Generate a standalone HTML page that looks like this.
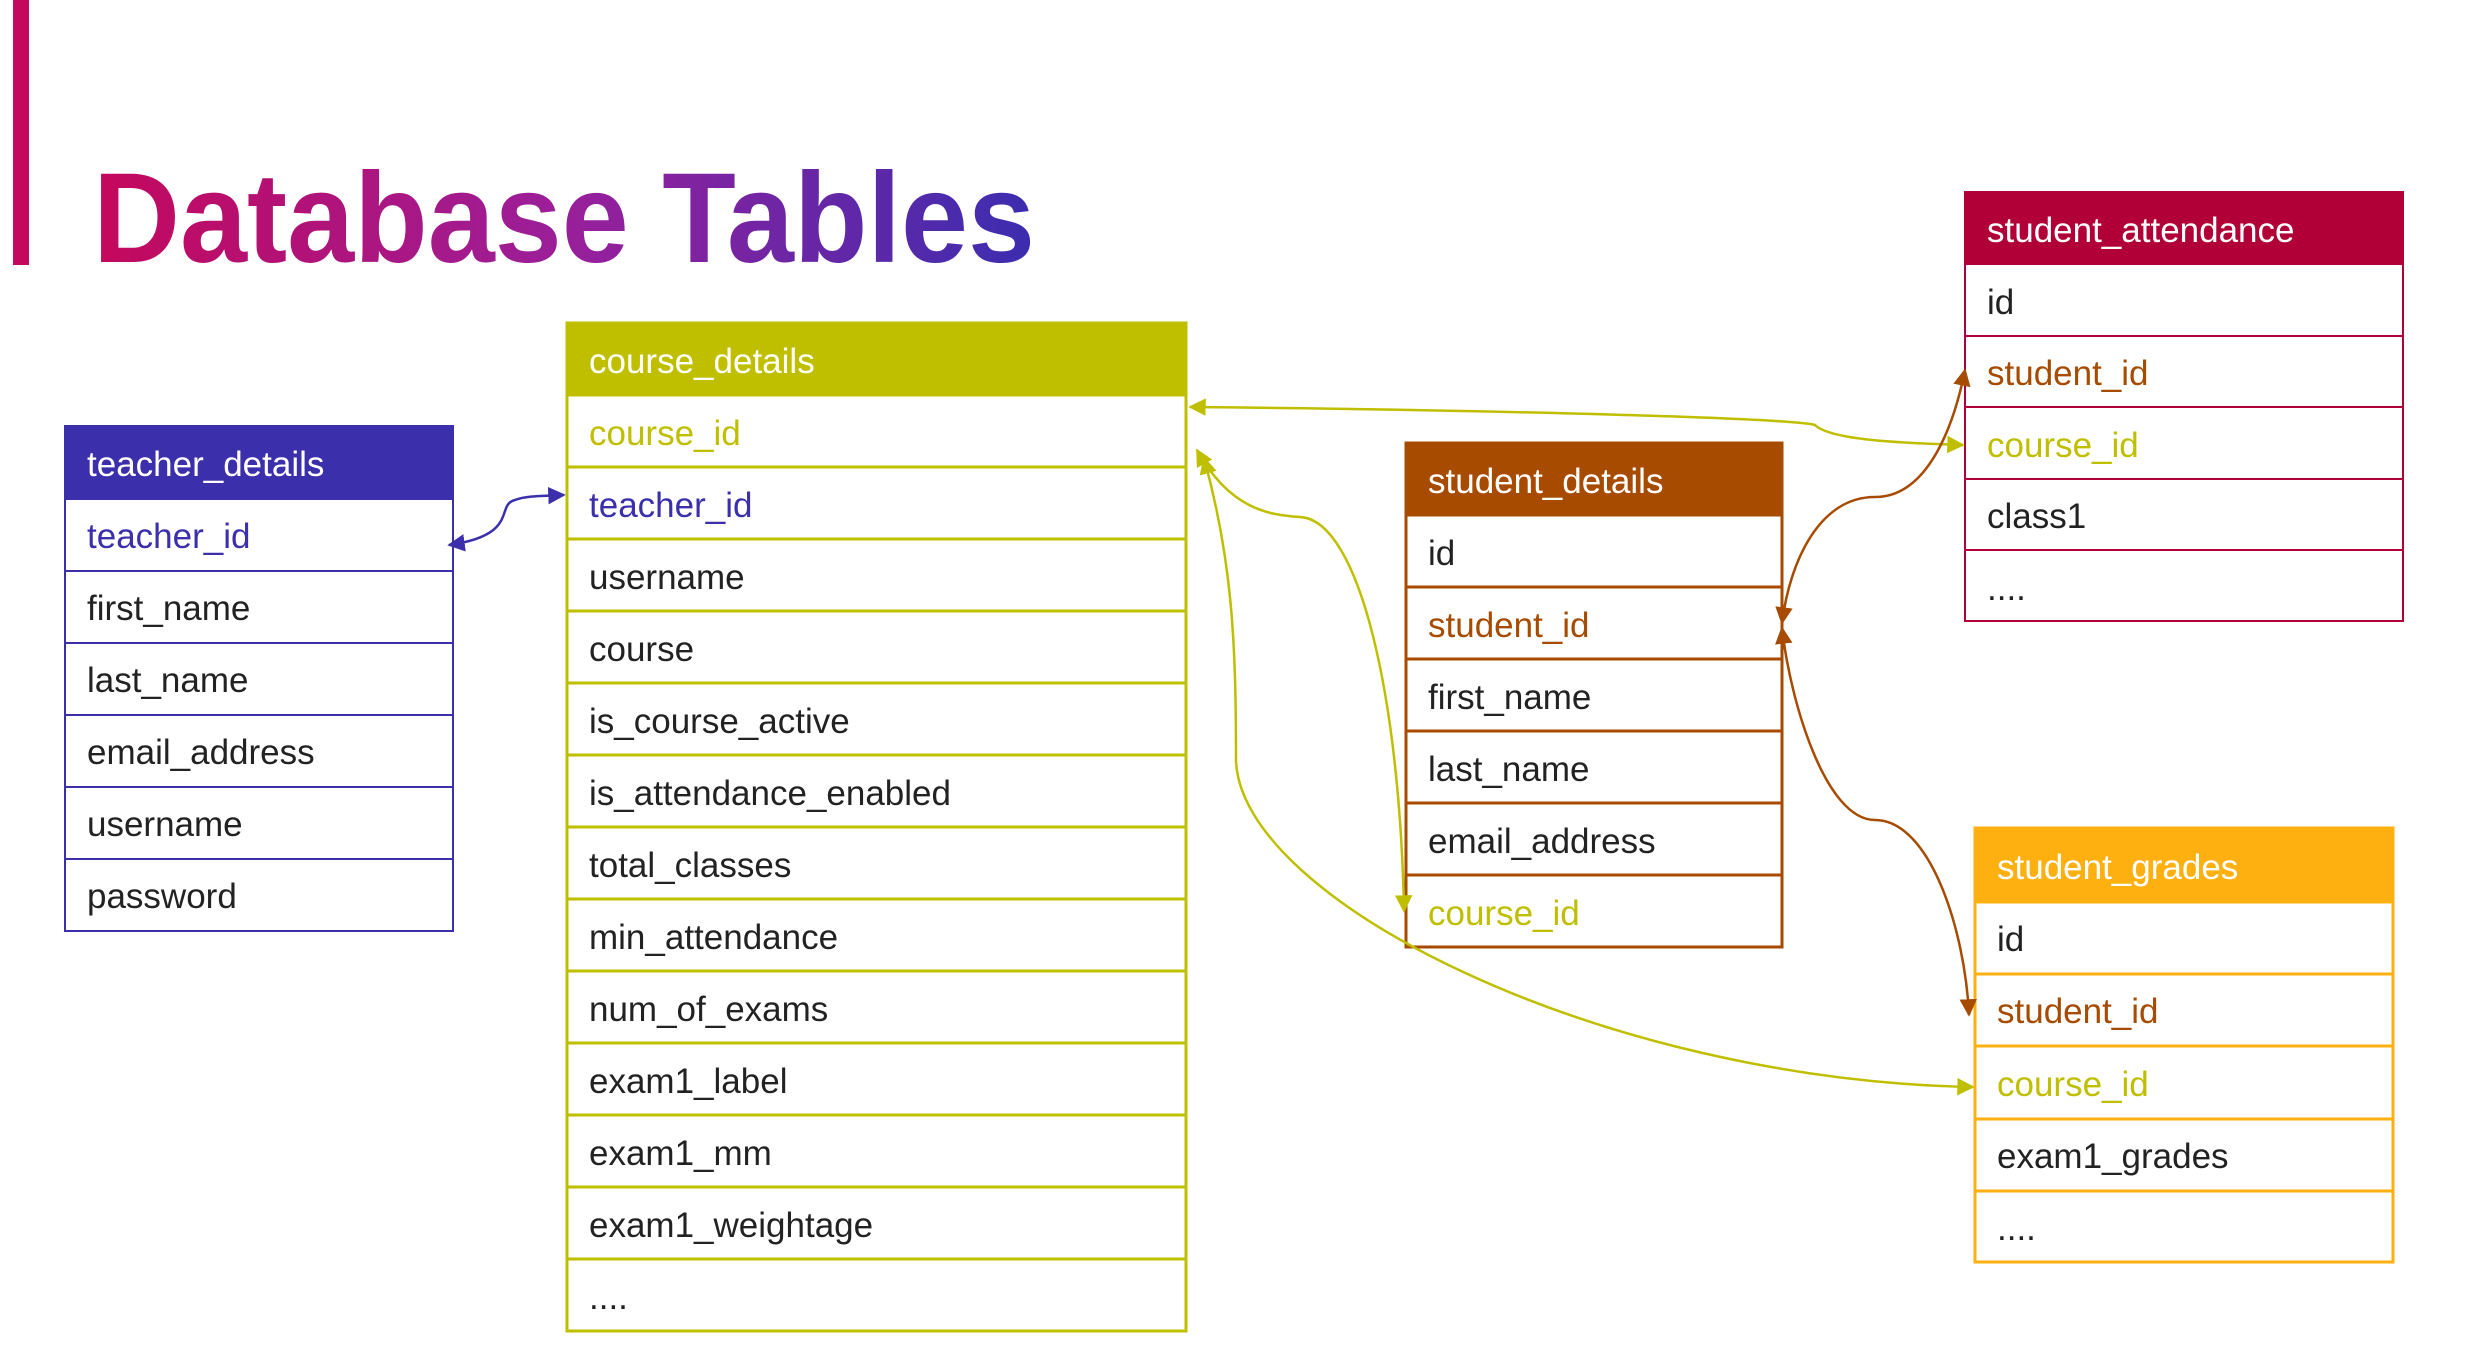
<!DOCTYPE html>
<html><head><meta charset="utf-8"><style>
html,body{margin:0;padding:0;background:#fff;width:2486px;height:1352px;overflow:hidden}
svg{display:block}
text{font-family:"Liberation Sans","DejaVu Sans",sans-serif;font-size:35px}
</style></head><body>
<svg width="2486" height="1352" viewBox="0 0 2486 1352" xmlns="http://www.w3.org/2000/svg">
<defs>
<linearGradient id="tg" x1="0" x2="1" y1="0" y2="0">
<stop offset="0" stop-color="#c4085c"/><stop offset="0.5" stop-color="#9a1f9a"/><stop offset="1" stop-color="#3b2db0"/>
</linearGradient>
<marker id="mb" viewBox="0 0 10 10" refX="9" refY="5" markerWidth="7" markerHeight="7" orient="auto-start-reverse"><path d="M0,0 L10,5 L0,10 z" fill="#3b2fac"/></marker>
<marker id="my" viewBox="0 0 10 10" refX="9" refY="5" markerWidth="7" markerHeight="7" orient="auto-start-reverse"><path d="M0,0 L10,5 L0,10 z" fill="#bfbf00"/></marker>
<marker id="mo" viewBox="0 0 10 10" refX="9" refY="5" markerWidth="7" markerHeight="7" orient="auto-start-reverse"><path d="M0,0 L10,5 L0,10 z" fill="#a64b00"/></marker>
</defs>
<rect x="13" y="0" width="16" height="265" fill="#c4085c"/>
<text x="93" y="262" style="font-size:128px;font-weight:bold" fill="url(#tg)" textLength="942" lengthAdjust="spacingAndGlyphs">Database Tables</text>

<!-- teacher_details -->
<g stroke="#3b2fac" stroke-width="2" fill="#fff">
<rect x="65" y="426" width="388" height="73" fill="#3b2fac"/>
<rect x="65" y="499" width="388" height="72"/><rect x="65" y="571" width="388" height="72"/><rect x="65" y="643" width="388" height="72"/><rect x="65" y="715" width="388" height="72"/><rect x="65" y="787" width="388" height="72"/><rect x="65" y="859" width="388" height="72"/>
</g>
<g>
<text x="87" y="476" fill="#fff">teacher_details</text>
<text x="87" y="548" fill="#3b2fac">teacher_id</text>
<text x="87" y="620" fill="#222">first_name</text>
<text x="87" y="692" fill="#222">last_name</text>
<text x="87" y="764" fill="#222">email_address</text>
<text x="87" y="836" fill="#222">username</text>
<text x="87" y="908" fill="#222">password</text>
</g>

<!-- course_details -->
<g stroke="#bfbf00" stroke-width="3" fill="#fff">
<rect x="567" y="323" width="619" height="72" fill="#bfbf00"/>
<rect x="567" y="395" width="619" height="72"/><rect x="567" y="467" width="619" height="72"/><rect x="567" y="539" width="619" height="72"/><rect x="567" y="611" width="619" height="72"/><rect x="567" y="683" width="619" height="72"/><rect x="567" y="755" width="619" height="72"/><rect x="567" y="827" width="619" height="72"/><rect x="567" y="899" width="619" height="72"/><rect x="567" y="971" width="619" height="72"/><rect x="567" y="1043" width="619" height="72"/><rect x="567" y="1115" width="619" height="72"/><rect x="567" y="1187" width="619" height="72"/><rect x="567" y="1259" width="619" height="72"/>
</g>
<g>
<text x="589" y="373" fill="#fff">course_details</text>
<text x="589" y="445" fill="#bfbf00">course_id</text>
<text x="589" y="517" fill="#3b2fac">teacher_id</text>
<text x="589" y="589" fill="#222">username</text>
<text x="589" y="661" fill="#222">course</text>
<text x="589" y="733" fill="#222">is_course_active</text>
<text x="589" y="805" fill="#222">is_attendance_enabled</text>
<text x="589" y="877" fill="#222">total_classes</text>
<text x="589" y="949" fill="#222">min_attendance</text>
<text x="589" y="1021" fill="#222">num_of_exams</text>
<text x="589" y="1093" fill="#222">exam1_label</text>
<text x="589" y="1165" fill="#222">exam1_mm</text>
<text x="589" y="1237" fill="#222">exam1_weightage</text>
<text x="589" y="1309" fill="#222">....</text>
</g>

<!-- student_details -->
<g stroke="#a64b00" stroke-width="3" fill="#fff">
<rect x="1406" y="443" width="376" height="72" fill="#a64b00"/>
<rect x="1406" y="515" width="376" height="72"/><rect x="1406" y="587" width="376" height="72"/><rect x="1406" y="659" width="376" height="72"/><rect x="1406" y="731" width="376" height="72"/><rect x="1406" y="803" width="376" height="72"/><rect x="1406" y="875" width="376" height="72"/>
</g>
<g>
<text x="1428" y="493" fill="#fff">student_details</text>
<text x="1428" y="565" fill="#222">id</text>
<text x="1428" y="637" fill="#a64b00">student_id</text>
<text x="1428" y="709" fill="#222">first_name</text>
<text x="1428" y="781" fill="#222">last_name</text>
<text x="1428" y="853" fill="#222">email_address</text>
<text x="1428" y="925" fill="#bfbf00">course_id</text>
</g>

<!-- student_attendance -->
<g stroke="#b00037" stroke-width="2" fill="#fff">
<rect x="1965" y="192" width="438" height="72" fill="#b00037"/>
<rect x="1965" y="264" width="438" height="72"/><rect x="1965" y="336" width="438" height="71"/><rect x="1965" y="407" width="438" height="72"/><rect x="1965" y="479" width="438" height="71"/><rect x="1965" y="550" width="438" height="71"/>
</g>
<g>
<text x="1987" y="242" fill="#fff">student_attendance</text>
<text x="1987" y="314" fill="#222">id</text>
<text x="1987" y="385" fill="#a64b00">student_id</text>
<text x="1987" y="457" fill="#bfbf00">course_id</text>
<text x="1987" y="528" fill="#222">class1</text>
<text x="1987" y="600" fill="#222">....</text>
</g>

<!-- student_grades -->
<g stroke="#fdb00f" stroke-width="3" fill="#fff">
<rect x="1975" y="828" width="418" height="74" fill="#fdb00f"/>
<rect x="1975" y="902" width="418" height="72"/><rect x="1975" y="974" width="418" height="72"/><rect x="1975" y="1046" width="418" height="73"/><rect x="1975" y="1119" width="418" height="72"/><rect x="1975" y="1191" width="418" height="71"/>
</g>
<g>
<text x="1997" y="879" fill="#fff">student_grades</text>
<text x="1997" y="951" fill="#222">id</text>
<text x="1997" y="1023" fill="#a64b00">student_id</text>
<text x="1997" y="1096" fill="#bfbf00">course_id</text>
<text x="1997" y="1168" fill="#222">exam1_grades</text>
<text x="1997" y="1240" fill="#222">....</text>
</g>

<!-- connectors -->
<g fill="none" stroke-width="2.5">
<path d="M449,545 C520,535 495,505 515,500 C525,496 540,496 564,495" stroke="#3b2fac" marker-start="url(#mb)" marker-end="url(#mb)"/>
<path d="M1190,407 C1500,410 1790,418 1815,425 C1830,440 1900,443 1963,445" stroke="#bfbf00" marker-start="url(#my)" marker-end="url(#my)"/>
<path d="M1197,450 C1230,510 1270,515 1300,517 C1360,520 1400,700 1404,911" stroke="#bfbf00" marker-start="url(#my)" marker-end="url(#my)"/>
<path d="M1204,458 C1232,560 1236,640 1236,760 C1240,900 1600,1080 1973,1087" stroke="#bfbf00" marker-start="url(#my)" marker-end="url(#my)"/>
<path d="M1782,623 C1790,560 1820,497 1875,497 C1930,497 1955,420 1965,370" stroke="#a64b00" marker-start="url(#mo)" marker-end="url(#mo)"/>
<path d="M1782,628 C1790,700 1825,820 1875,820 C1930,820 1965,930 1969,1015" stroke="#a64b00" marker-start="url(#mo)" marker-end="url(#mo)"/>
</g>
</svg>
</body></html>
